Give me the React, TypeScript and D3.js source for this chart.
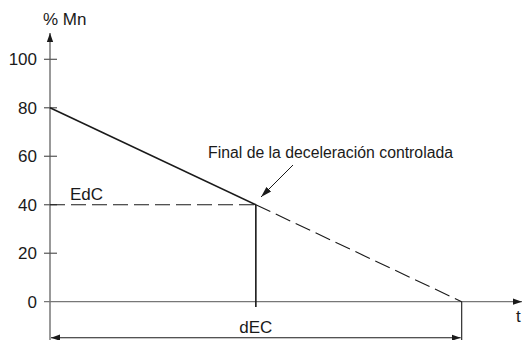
import * as React from "react";
import * as d3 from "d3";

const yTicks = [0, 20, 40, 60, 80, 100];
// ramp: controlled deceleration, t in % of the total stop time
const rampT = [0, 50];
const rampV = [80, 40];
const extT = [50, 100];
const extV = [40, 0];
const edcValue = 40;
const decT = 50;

const font = "'Liberation Sans', Arial, Helvetica, sans-serif";
const ink = "#1a1a1a";
const axisInk = "#555";

export default function App() {
  const width = 523;
  const height = 340;

  const x = d3.scaleLinear().domain([0, 100]).range([50, 461.7]);
  const y = d3.scaleLinear().domain([0, 100]).range([301.7, 59.3]);

  const line = d3
    .line<[number, number]>()
    .x((d) => x(d[0]))
    .y((d) => y(d[1]));

  const ramp = line(rampT.map((t, i) => [t, rampV[i]]));
  const ext = line(extT.map((t, i) => [t, extV[i]]));

  const x0 = x(0);
  const y0 = y(0);
  const xEnd = x(100);
  const xDec = x(decT);
  const yEdc = y(edcValue);

  return (
    <svg
      width={width}
      height={height}
      style={{ position: "absolute", left: 0, top: 0, background: "#fff" }}
      fontFamily={font}
    >
      <defs>
        <marker
          id="arr"
          viewBox="0 0 10 10"
          refX="10"
          refY="5"
          markerWidth="9"
          markerHeight="9"
          markerUnits="userSpaceOnUse"
          orient="auto-start-reverse"
        >
          <path d="M0,1.5 L10,5 L0,8.5 Z" fill={ink} />
        </marker>
        <marker
          id="arrS"
          viewBox="0 0 10 10"
          refX="10"
          refY="5"
          markerWidth="11"
          markerHeight="11"
          markerUnits="userSpaceOnUse"
          orient="auto"
        >
          <path d="M0,2 L10,5 L0,8 Z" fill={ink} />
        </marker>
      </defs>

      {/* y axis */}
      <line
        x1={x0}
        y1={height}
        x2={x0}
        y2={33}
        stroke={axisInk}
        strokeWidth={1.2}
        markerEnd="url(#arr)"
      />
      <text x={43} y={25} fontSize={17} fill={ink}>
        % Mn
      </text>
      {yTicks.map((v) => (
        <g key={v}>
          {v > 0 && (
            <line x1={44} x2={57} y1={y(v)} y2={y(v)} stroke={axisInk} strokeWidth={1.2} />
          )}
          <text
            x={37}
            y={y(v)}
            dy="0.35em"
            textAnchor="end"
            fontSize={17}
            fill={ink}
          >
            {v}
          </text>
        </g>
      ))}

      {/* x axis */}
      <line
        x1={44}
        y1={y0}
        x2={522}
        y2={y0}
        stroke="#777"
        strokeWidth={1.2}
        markerEnd="url(#arr)"
      />
      <text x={516} y={322} fontSize={17} fill={ink}>
        t
      </text>

      {/* EdC dashed level */}
      <line
        x1={x0}
        x2={xDec}
        y1={yEdc}
        y2={yEdc}
        stroke={ink}
        strokeWidth={1.1}
        strokeDasharray="15,6"
      />
      <text x={70} y={200} fontSize={17} fill={ink}>
        EdC
      </text>

      {/* extension of the ramp */}
      <path d={ext ?? ""} fill="none" stroke={ink} strokeWidth={1.1} strokeDasharray="16,6" />

      {/* ramp */}
      <path d={ramp ?? ""} fill="none" stroke={ink} strokeWidth={1.6} />

      {/* vertical at dEC */}
      <line x1={xDec} x2={xDec} y1={yEdc} y2={307} stroke={ink} strokeWidth={1.6} />

      {/* right vertical */}
      <line x1={xEnd} x2={xEnd} y1={y0} y2={height} stroke={ink} strokeWidth={1.1} />

      {/* dimension line */}
      <line
        x1={x0 + 1}
        x2={xEnd - 1}
        y1={337.7}
        y2={337.7}
        stroke={ink}
        strokeWidth={1.1}
        markerStart="url(#arr)"
        markerEnd="url(#arr)"
      />
      <text x={xDec} y={333} textAnchor="middle" fontSize={17} fill={ink}>
        dEC
      </text>

      {/* annotation */}
      <text x={208} y={158} fontSize={15.8} fill={ink}>
        Final de la deceleración controlada
      </text>
      <line
        x1={293}
        y1={165}
        x2={261}
        y2={197}
        stroke={ink}
        strokeWidth={1}
        markerEnd="url(#arrS)"
      />
    </svg>
  );
}
